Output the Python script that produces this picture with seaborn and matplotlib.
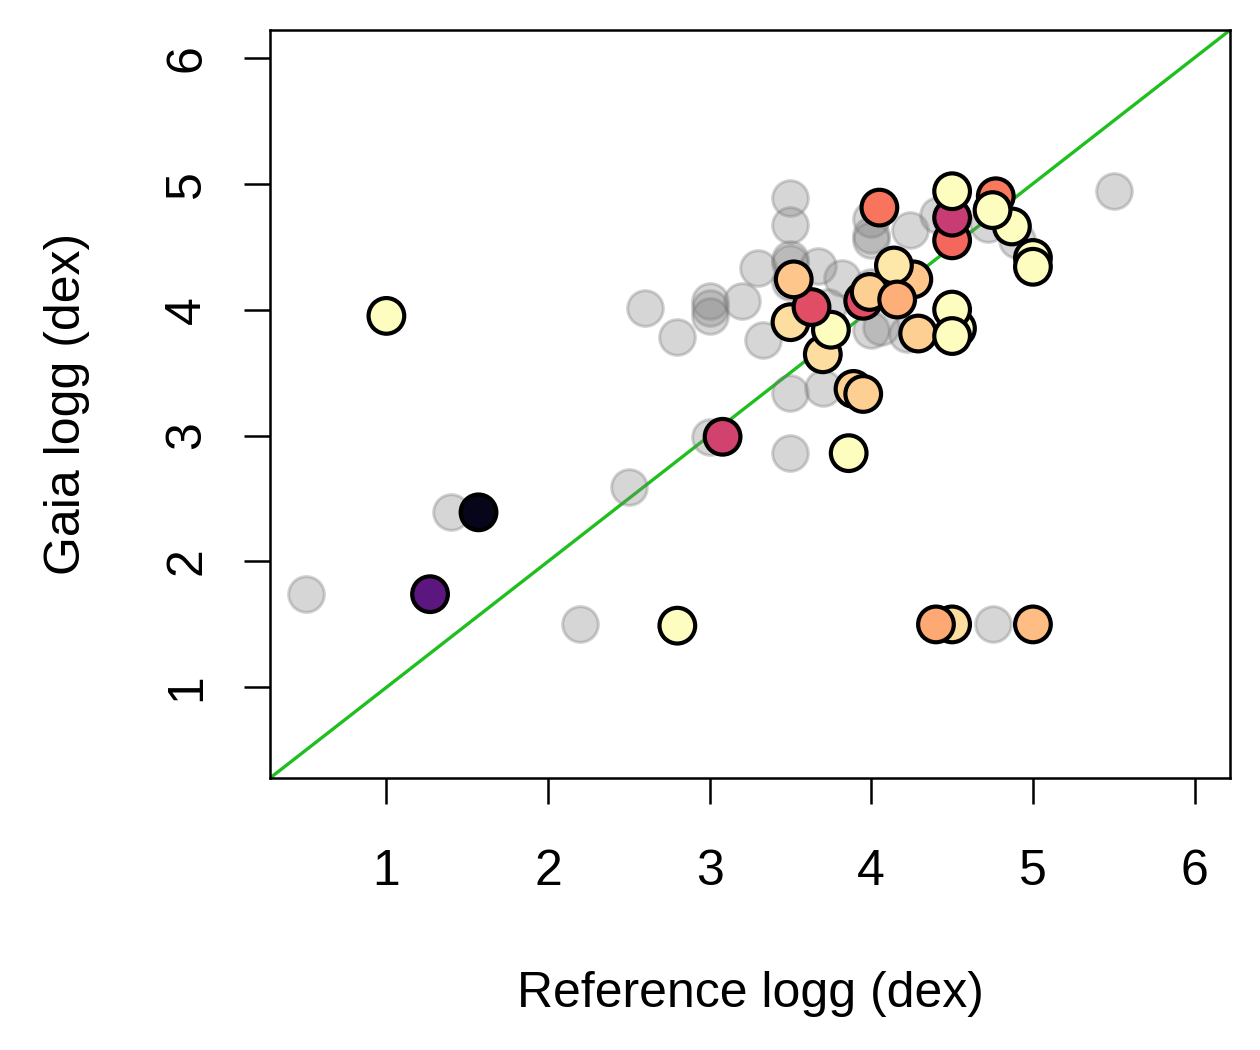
import matplotlib
matplotlib.use("Agg")
import matplotlib.pyplot as plt
import numpy as np
import pandas as pd
import seaborn as sns

# all comparison stars (grey, drawn underneath)
ref_all = [2.60, 3.00, 3.00, 3.00, 3.20, 2.80, 3.33, 3.00, 2.50, 1.40, 0.50, 2.20,
           3.50, 3.50, 3.50, 3.50, 3.50, 3.30, 3.67, 3.82, 3.50, 3.70, 3.50, 3.73,
           4.00, 4.00, 4.00, 4.24, 4.41, 4.72, 4.90, 4.00, 4.06, 4.22, 4.00, 5.50,
           4.75]
gaia_all = [4.01, 4.07, 4.01, 3.95, 4.07, 3.78, 3.76, 2.99, 2.59, 2.39, 1.74, 1.50,
            4.89, 4.67, 4.40, 4.37, 4.22, 4.33, 4.35, 4.25, 3.34, 3.38, 2.86, 4.02,
            4.72, 4.59, 4.55, 4.63, 4.75, 4.68, 4.55, 3.84, 3.86, 3.81, 4.18, 4.94,
            1.50]

# highlighted subset, coloured by a scaled quantity (0 = dark, 1 = pale)
ref_sel = [1.00, 1.57, 1.27, 3.08, 2.80, 3.86, 3.89, 3.95, 3.70, 3.75, 3.50, 3.63,
           3.52, 3.95, 3.99, 4.26, 4.14, 4.16, 4.29, 4.53, 4.50, 4.50, 4.05, 4.50,
           4.50, 4.50, 4.77, 4.87, 4.75, 5.00, 5.00, 4.50, 4.40, 5.00]
gaia_sel = [3.95, 2.39, 1.74, 2.99, 1.49, 2.86, 3.37, 3.33, 3.645, 3.84, 3.90, 4.02,
            4.24, 4.07, 4.14, 4.24, 4.35, 4.08, 3.81, 3.85, 4.00, 3.79, 4.81, 4.55,
            4.73, 4.94, 4.90, 4.66, 4.79, 4.41, 4.34, 1.50, 1.50, 1.50]
col_sel = [1.00, 0.05, 0.28, 0.57, 1.00, 1.00, 0.90, 0.90, 0.93, 1.00, 0.93, 0.61,
           0.88, 0.61, 0.90, 0.88, 0.95, 0.83, 0.90, 1.00, 1.00, 1.00, 0.71, 0.68,
           0.54, 1.00, 0.72, 1.00, 1.00, 1.00, 1.00, 0.93, 0.82, 0.86]

LIM = (0.5, 6.0)
TICKS = [1, 2, 3, 4, 5, 6]


def plot():
    sns.set_style("ticks")
    plt.rcParams["font.family"] = ["Liberation Sans", "DejaVu Sans"]
    plt.rcParams["text.color"] = "black"
    plt.rcParams["axes.labelcolor"] = "black"

    df_all = pd.DataFrame({"ref": ref_all, "gaia": gaia_all})
    df_sel = pd.DataFrame({"ref": ref_sel, "gaia": gaia_sel, "c": col_sel})

    fig = plt.figure(figsize=(6.3, 5.25), dpi=200)
    ax = fig.add_axes([0.2143, 0.259, 0.762, 0.7124])

    sns.scatterplot(data=df_all, x="ref", y="gaia", ax=ax, s=165,
                    color=(0.5, 0.5, 0.5), alpha=0.32, edgecolor=(0.45, 0.45, 0.45),
                    linewidth=1.1, legend=False, zorder=2)
    sns.scatterplot(data=df_sel, x="ref", y="gaia", hue="c", palette="magma",
                    hue_norm=(0, 1), ax=ax, s=165, edgecolor="black",
                    linewidth=1.5, legend=False, zorder=3)

    # R-style 4% padding around the range
    pad = (LIM[1] - LIM[0]) * 0.04
    lo, hi = LIM[0] - pad, LIM[1] + pad
    ax.set_xlim(lo, hi)
    ax.set_ylim(lo, hi)
    ax.plot([lo, hi], [lo, hi], color="#1fbf1f", lw=1.2, zorder=1)

    ax.set_xticks(TICKS)
    ax.set_yticks(TICKS)
    ax.tick_params(axis="both", direction="out", length=9.5, width=0.9,
                   labelsize=18, colors="black")
    ax.tick_params(axis="x", pad=16)
    ax.tick_params(axis="y", pad=12, labelrotation=90)
    for lab in ax.get_yticklabels():
        lab.set_va("center")
    for sp in ax.spines.values():
        sp.set_visible(True)
        sp.set_linewidth(0.9)
        sp.set_color("black")

    ax.set_xlabel("Reference logg (dex)", fontsize=18, color="black")
    ax.set_ylabel("Gaia logg (dex)", fontsize=18, color="black")
    ax.xaxis.set_label_coords(0.5, -0.258)
    ax.yaxis.set_label_coords(-0.188, 0.5)

    fig.savefig("out.png", dpi=200)


plot()
